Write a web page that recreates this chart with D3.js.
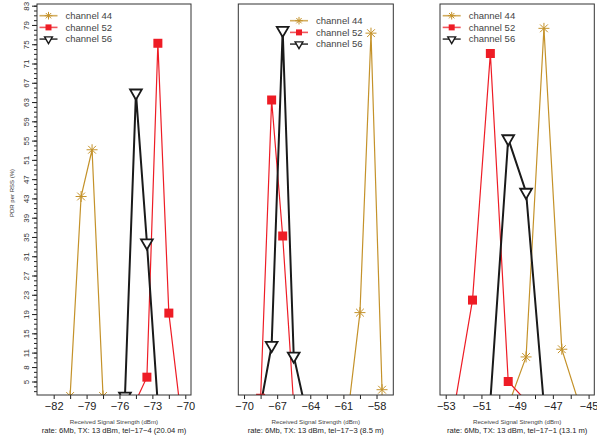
<!DOCTYPE html>
<html>
<head>
<meta charset="utf-8">
<script src="https://cdn.jsdelivr.net/npm/d3@7"></script>
<style>
  body { margin: 0; background: #fff; }
  svg { display: block; font-family: "Liberation Sans", Arial, sans-serif; }
</style>
</head>
<body>
<svg id="chart" width="597" height="438"></svg>
<script>
'use strict';

const channels = ['channel 44', 'channel 52', 'channel 56'];
const colors = ['#c4922a', '#ee1c25', '#1a1a1a'];
const yTicks = [83, 79, 75, 71, 67, 63, 59, 55, 51, 47, 43, 39, 35, 31, 27, 23, 19, 15, 11, 8, 5];

// tel-17-4 : [RSS dBm, PDR %]
const tel4Ch44 = [[-80.5, 2], [-79.5, 43.4], [-78.5, 53.1], [-77.5, 2]];
const tel4Ch52 = [[-74.5, 1], [-73.5, 5.9], [-72.5, 75.2], [-71.5, 19.2], [-70.5, 0]];
const tel4Ch56 = [[-75.5, 2], [-74.5, 64.9], [-73.5, 33.8], [-72.5, 0]];
const tel4Ticks = [-82, -79, -76, -73, -70];

// tel-17-3
const tel3Ch44 = [[-60.5, 0], [-59.5, 19.3], [-58.5, 77.3], [-57.5, 3.3]];
const tel3Ch52 = [[-68.5, 1.5], [-67.5, 63.4], [-66.5, 35.2], [-65.5, 0]];
const tel3Ch56 = [[-68.5, 0], [-67.5, 12.5], [-66.5, 77.9], [-65.5, 10.3], [-64.5, 0]];
const tel3Ticks = [-70, -67, -64, -61, -58];

// tel-17-1
const tel1Ch44 = [[-49.5, 0], [-48.5, 10.1], [-47.5, 78.3], [-46.5, 11.7], [-45.5, 0]];
const tel1Ch52 = [[-52.5, 0], [-51.5, 21.9], [-50.5, 73.1], [-49.5, 5], [-48.5, 1]];
const tel1Ch56 = [[-50.5, 1], [-49.5, 55.4], [-48.5, 44.3], [-47.5, 0]];
const tel1Ticks = [-53, -51, -49, -47, -45];

const captions = [
  'rate: 6Mb, TX: 13 dBm, tel\u221217\u22124 (20.04 m)',
  'rate: 6Mb, TX: 13 dBm, tel\u221217\u22123 (8.5 m)',
  'rate: 6Mb, TX: 13 dBm, tel\u221217\u22121 (13.1 m)',
];

const panels = [
  { series: [tel4Ch44, tel4Ch52, tel4Ch56], ticks: tel4Ticks, step: 1.5,
    domain: [-83.52, -69.48], left: 37, right: 191, legend: [39.5, 15.7], yAxis: true },
  { series: [tel3Ch44, tel3Ch52, tel3Ch56], ticks: tel3Ticks, step: 1.5,
    domain: [-70.52, -56.48], left: 238.3, right: 393.3, legend: [290, 20.7] },
  { series: [tel1Ch44, tel1Ch52, tel1Ch56], ticks: tel1Ticks, step: 1,
    domain: [-53.32, -44.68], left: 440, right: 594.3, legend: [442.7, 15.7] },
];

const plotTop = 4, plotBottom = 395;
const svg = d3.select('#chart');
const y = d3.scaleLinear().domain([2.2, 83.35]).range([plotBottom, plotTop]);

function markerPath(i, r) {
  if (i === 0) {
    const d = r * 0.707;
    return `M0,${-r}V${r}M${-r},0H${r}M${-d},${-d}L${d},${d}M${-d},${d}L${d},${-d}`;
  }
  if (i === 1) return `M${-r},${-r}H${r}V${r}H${-r}Z`;
  const w = r * 0.866;
  return `M0,${r}L${-w},${-r / 2}L${w},${-r / 2}Z`;
}

function drawMarker(g, i, big) {
  const sizes = big ? [5.5, 4.5, 6.8] : [3.8, 3, 4.5];
  const p = g.append('path').attr('d', markerPath(i, sizes[i]));
  if (i === 0) p.attr('fill', 'none').attr('stroke', colors[0]).attr('stroke-width', 1);
  else if (i === 1) p.attr('fill', colors[1]);
  else p.attr('fill', '#fff').attr('stroke', colors[2]).attr('stroke-width', big ? 1.8 : 1.4);
}

panels.forEach((p, pi) => {
  const x = d3.scaleLinear().domain(p.domain).range([p.left, p.right]);
  const g = svg.append('g');

  g.append('clipPath').attr('id', `clip${pi}`)
    .append('rect')
    .attr('x', p.left).attr('y', plotTop)
    .attr('width', p.right - p.left).attr('height', plotBottom - plotTop);

  // x axis
  const allTicks = d3.range(p.ticks[0], p.domain[1] - 0.1, p.step)
    .concat(d3.range(p.ticks[0] - p.step, p.domain[0] + 0.1, -p.step));
  g.append('g')
    .attr('transform', `translate(0,${plotBottom})`)
    .call(d3.axisBottom(x).tickValues(allTicks).tickSize(4)
      .tickFormat((d) => (p.ticks.some((t) => Math.abs(t - d) < 1e-6) ? d3.format('d')(d) : '')))
    .call((a) => a.select('.domain').remove())
    .call((a) => a.selectAll('.tick line').attr('stroke', '#222'))
    .call((a) => a.selectAll('.tick text')
      .attr('y', 15).attr('dy', 0).attr('fill', '#222').attr('font-size', 11));

  // y axis (left panel only)
  if (p.yAxis) {
    g.append('g')
      .attr('transform', `translate(${p.left},0)`)
      .call(d3.axisLeft(y).tickValues(d3.range(3, 84)).tickSize(3).tickFormat(''))
      .call((a) => a.select('.domain').remove())
      .call((a) => a.selectAll('.tick line').attr('stroke', '#222'));
    g.append('g')
      .attr('transform', `translate(${p.left},0)`)
      .call(d3.axisLeft(y).tickValues(yTicks).tickSize(5))
      .call((a) => a.select('.domain').remove())
      .call((a) => a.selectAll('.tick line').attr('stroke', '#222'))
      .call((a) => a.selectAll('.tick text')
        .attr('x', 0).attr('dy', 0)
        .attr('transform', 'translate(-8.5,0) rotate(-90)')
        .attr('text-anchor', 'middle')
        .attr('fill', '#333').attr('font-size', 8));
    g.append('text')
      .attr('transform', `translate(14,193) rotate(-90)`)
      .attr('text-anchor', 'middle')
      .attr('font-size', 6).attr('fill', '#333')
      .text('PDR per RSS (%)');
  }

  // series
  const line = d3.line().x((d) => x(d[0])).y((d) => y(d[1]));
  const plot = g.append('g').attr('clip-path', `url(#clip${pi})`);
  p.series.forEach((data, i) => {
    plot.append('path')
      .datum(data)
      .attr('fill', 'none')
      .attr('stroke', colors[i])
      .attr('stroke-width', i === 2 ? 2 : 1.2)
      .attr('d', line);
  });
  p.series.forEach((data, i) => {
    data.forEach((d) => {
      const m = plot.append('g').attr('transform', `translate(${x(d[0])},${y(d[1])})`);
      drawMarker(m, i, true);
    });
  });

  // box
  g.append('rect')
    .attr('x', p.left).attr('y', plotTop)
    .attr('width', p.right - p.left).attr('height', plotBottom - plotTop)
    .attr('fill', 'none').attr('stroke', '#333').attr('stroke-width', 1);

  // legend
  const [lx, ly] = p.legend;
  channels.forEach((name, i) => {
    const row = g.append('g').attr('transform', `translate(${lx},${ly + i * 11.7})`);
    row.append('line')
      .attr('x1', 0).attr('x2', 18)
      .attr('stroke', colors[i]).attr('stroke-opacity', 0.75)
      .attr('stroke-width', i === 2 ? 1.8 : 1.6);
    const m = row.append('g').attr('transform', 'translate(9,0)');
    drawMarker(m, i, false);
    row.append('text')
      .attr('x', 26).attr('dy', '0.35em')
      .attr('font-size', 9.5).attr('fill', '#444')
      .text(name);
  });

  // titles
  const cx = (p.left + p.right) / 2;
  g.append('text')
    .attr('x', cx).attr('y', 423.5)
    .attr('text-anchor', 'middle')
    .attr('font-size', 6.2).attr('fill', '#444')
    .text('Received Signal Strength (dBm)');
  g.append('text')
    .attr('x', cx).attr('y', 432.5)
    .attr('text-anchor', 'middle')
    .attr('font-size', 7.6).attr('fill', '#222')
    .text(captions[pi]);
});
</script>
</body>
</html>
